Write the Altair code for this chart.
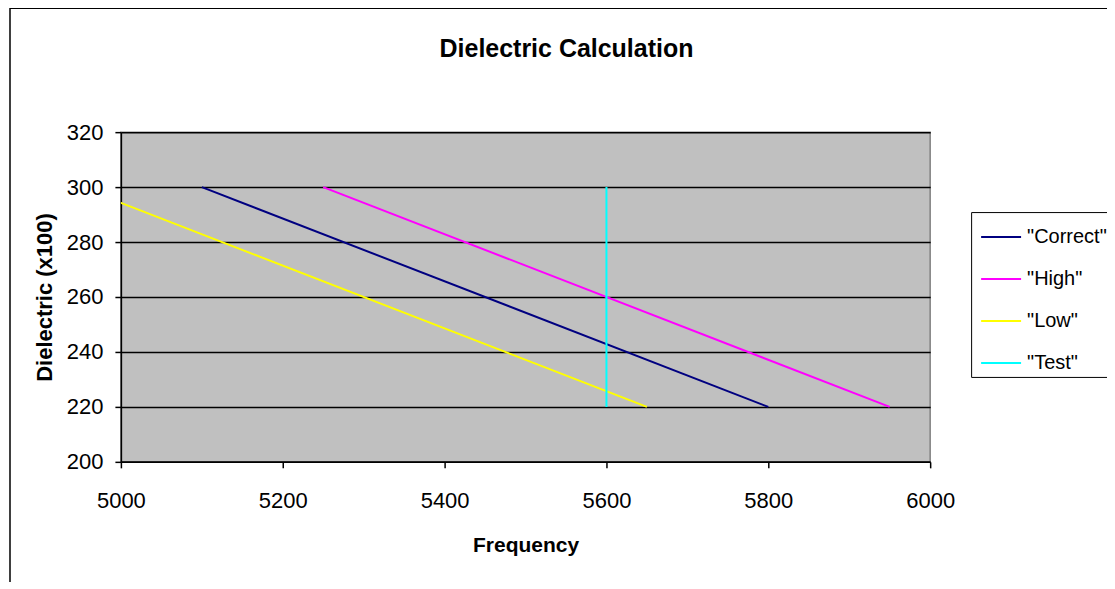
import altair as alt
import pandas as pd

# ---- data ----
series_names = ['"Correct"', '"High"', '"Low"', '"Test"']
series_colors = ["#000080", "#FF00FF", "#FFFF00", "#00FFFF"]
correct_freq = [5100, 5800]
correct_diel = [300, 220]
high_freq = [5250, 5950]
high_diel = [300, 220]
low_freq = [4950, 5650]
low_diel = [300, 220]
test_freq = [5600, 5600]
test_diel = [300, 220]
x_ticks = [5000, 5200, 5400, 5600, 5800, 6000]
y_ticks = [200, 220, 240, 260, 280, 300, 320]
chart_title = "Dielectric Calculation"
x_title = "Frequency"
y_title = "Dielectric (x100)"

rows = []
for name, fx, dy in zip(series_names,
                        [correct_freq, high_freq, low_freq, test_freq],
                        [correct_diel, high_diel, low_diel, test_diel]):
    for i, (f, d) in enumerate(zip(fx, dy)):
        rows.append({"series": name, "freq": f, "diel": d, "idx": i})
df = pd.DataFrame(rows)

FONT = "Liberation Sans"

lines = alt.Chart(df).mark_line(strokeWidth=2, clip=True).encode(
    x=alt.X("freq:Q",
            scale=alt.Scale(domain=[5000, 6000], nice=False, zero=False),
            axis=alt.Axis(values=x_ticks, format="d", labelFlush=False,
                          title=x_title, grid=False,
                          tickSize=6, labelPadding=23, labelFontSize=22,
                          titleFontSize=21, titleFontWeight="bold",
                          titleX=405, titleY=84, titleBaseline="middle",
                          titleAlign="center")),
    y=alt.Y("diel:Q",
            scale=alt.Scale(domain=[200, 320], nice=False, zero=False),
            axis=alt.Axis(values=y_ticks, format="d", labelFlush=False,
                          title=y_title, grid=True,
                          gridColor="black", gridWidth=1.5,
                          tickSize=6, labelPadding=12, labelFontSize=22,
                          titleFontSize=22, titleFontWeight="bold",
                          titleAngle=270, titleX=-76, titleY=165,
                          titleBaseline="middle", titleAlign="center")),
    color=alt.Color("series:N",
                    scale=alt.Scale(domain=series_names, range=series_colors),
                    sort=series_names,
                    legend=alt.Legend(title=None, orient="none",
                                      legendX=851, legendY=80,
                                      symbolType="stroke", symbolSize=1600,
                                      symbolStrokeWidth=2, symbolOffset=5,
                                      labelOffset=5, labelFontSize=20,
                                      labelFont=FONT, labelColor="black",
                                      rowPadding=11, padding=4,
                                      strokeColor="black")),
    order="idx:O",
    detail="series:N",
)

title_df = pd.DataFrame({"t": [chart_title]})
title_mark = alt.Chart(title_df).mark_text(
    font=FONT, fontSize=25, fontWeight="bold", color="black",
    align="center", baseline="middle"
).encode(text="t:N", x=alt.value(446), y=alt.value(-83))

frame = alt.Chart(title_df).mark_rect(
    fill="white", fillOpacity=0, stroke="black", strokeWidth=1.5
).encode(x=alt.value(-111), x2=alt.value(1100), y=alt.value(-124), y2=alt.value(600))

chart = alt.layer(frame, lines, title_mark).properties(
    width=810, height=330,
    autosize=alt.AutoSizeParams(type="none"),
    padding={"left": 113, "top": 124, "right": 177, "bottom": 120},
    background="white",
).configure_view(
    fill="#C0C0C0", stroke="#808080", strokeWidth=1.5
).configure_axis(
    domainColor="black", domainWidth=1.5, tickColor="black", tickWidth=1.5,
    labelColor="black", titleColor="black", labelFont=FONT, titleFont=FONT,
)

chart.save("out.html", embed_options={"renderer": "svg", "actions": False})
